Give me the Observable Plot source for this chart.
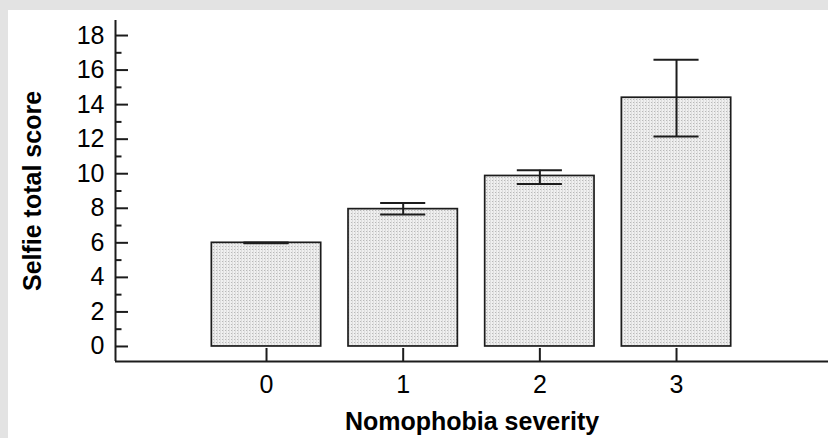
<!DOCTYPE html>
<html>
<head>
<meta charset="utf-8">
<script src="https://cdn.jsdelivr.net/npm/d3@7"></script>
<script src="https://cdn.jsdelivr.net/npm/@observablehq/plot@0.6"></script>
<style>
  html, body { margin: 0; padding: 0; background: #fff; }
  #wrap { position: relative; width: 828px; height: 438px; overflow: hidden; background: #fff; }
  #wrap svg { position: absolute; left: 0; top: 0; }
  .edge { position: absolute; background: #e3e3e3; }
</style>
</head>
<body>
<div id="wrap">
  <div id="chart"></div>
  <div class="edge" style="left:0;top:0;width:828px;height:10px"></div>
  <div class="edge" style="left:0;top:0;width:8px;height:438px"></div>
</div>
<script>
// Data
const categories = [0, 1, 2, 3];
const means = [6.0, 7.95, 9.87, 14.4];
const errLow = [5.98, 7.64, 9.4, 12.15];
const errHigh = [6.02, 8.3, 10.2, 16.6];
const yMajorTicks = [0, 2, 4, 6, 8, 10, 12, 14, 16, 18];
const yMinorTicks = [1, 3, 5, 7, 9, 11, 13, 15, 17];
const xTicks = [0, 1, 2, 3];
const xTitle = "Nomophobia severity";
const yTitle = "Selfie total score";

const data = categories.map((c, i) => ({cat: c, mean: means[i], lo: errLow[i], hi: errHigh[i]}));

const xDomain = [-1.105, 4.112];
const yDomain = [-0.87, 18.87];
const halfBar = 0.4;
const halfCap = 0.165;
const ink = "#1c1c1c";
const font = "'Liberation Sans', Arial, Helvetica, sans-serif";

const plot = Plot.plot({
  width: 828,
  height: 438,
  marginLeft: 115,
  marginRight: 0,
  marginTop: 20,
  marginBottom: 77,
  style: {fontFamily: font, color: "#000", background: "transparent"},
  x: {type: "linear", domain: xDomain},
  y: {type: "linear", domain: yDomain},
  marks: [
    Plot.rectY(data, {
      x1: d => d.cat - halfBar, x2: d => d.cat + halfBar,
      y1: 0, y2: "mean",
      fill: "url(#stipple)", stroke: ink, strokeWidth: 1.7
    }),
    Plot.ruleX(data, {x: "cat", y1: "lo", y2: "hi", stroke: ink, strokeWidth: 2}),
    Plot.ruleY(data, {y: "hi", x1: d => d.cat - halfCap, x2: d => d.cat + halfCap, stroke: ink, strokeWidth: 2}),
    Plot.ruleY(data, {y: "lo", x1: d => d.cat - halfCap, x2: d => d.cat + halfCap, stroke: ink, strokeWidth: 2}),
    Plot.ruleX([xDomain[0]], {stroke: ink, strokeWidth: 2}),
    Plot.ruleY([yDomain[0]], {stroke: ink, strokeWidth: 2}),
    Plot.axisY({ticks: yMajorTicks, tickSize: -13, tickPadding: 24, fontSize: 25, label: null, stroke: ink, strokeWidth: 2, tickFormat: d => String(d)}),
    Plot.axisY({ticks: yMinorTicks, tickSize: -6.5, text: null, label: null, stroke: ink, strokeWidth: 2}),
    Plot.axisY({ticks: [], label: yTitle, labelAnchor: "center", labelArrow: "none", labelOffset: 92, fontSize: 25, fontWeight: "bold"}),
    Plot.axisX({ticks: xTicks, tickSize: -13, tickPadding: 27, fontSize: 25, label: null, stroke: ink, strokeWidth: 2, tickFormat: d => String(d)}),
    Plot.axisX({ticks: [], label: xTitle, labelAnchor: "center", labelArrow: "none", labelOffset: 68, fontSize: 25, fontWeight: "bold"})
  ]
});

// stipple pattern for bar fill
const svg = d3.select(plot);
const defs = svg.insert("defs", ":first-child");
const pat = defs.append("pattern").attr("id", "stipple").attr("patternUnits", "userSpaceOnUse")
  .attr("width", 3).attr("height", 3);
pat.append("rect").attr("width", 3).attr("height", 3).attr("fill", "#efefef");
pat.append("rect").attr("x", 0).attr("y", 0).attr("width", 1).attr("height", 1).attr("fill", "#b8b8b8");
pat.append("rect").attr("x", 1).attr("y", 0).attr("width", 1).attr("height", 3).attr("fill", "#dedede");

document.getElementById("chart").appendChild(plot);
</script>
</body>
</html>
